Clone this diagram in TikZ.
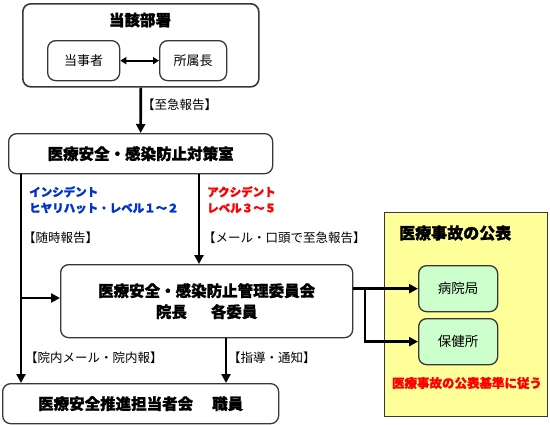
\documentclass[tikz,border=0pt]{standalone}
\usepackage{fontspec}
\setmainfont{Noto Sans CJK JP}[BoldFeatures={FakeBold=1.2}]
\usetikzlibrary{arrows.meta}
\definecolor{ylw}{HTML}{FFFF99}
\definecolor{grn}{HTML}{CCFFCC}
\definecolor{bdr}{HTML}{383838}
\definecolor{bluetxt}{HTML}{0033CC}
\begin{document}
\begin{tikzpicture}[x=1bp,y=-1bp,
  box/.style={draw=bdr, line width=1.3bp, rounded corners=8bp, fill=white, anchor=north west, inner sep=0pt},
  big/.style={font=\fontsize{15.5bp}{21bp}\selectfont\bfseries},
  small/.style={font=\fontsize{12.5bp}{15bp}\selectfont},
  arr/.style={line width=2.6bp, -{Triangle[length=9bp,width=9bp]}},
  lbl/.style={small, anchor=west, inner sep=0pt}]
\useasboundingbox (0,0) rectangle (550,424);

% top department box
\node[box, line width=1.6bp, minimum width=236bp, minimum height=83bp] (dept) at (22,3) {};
\node[big] (deptT) at (140,20) {当該部署};
\node[box, small, font=\fontsize{13bp}{15bp}\selectfont, minimum width=72bp, minimum height=40bp] (tojisha) at (47,40) {当事者};
\node[box, small, font=\fontsize{13bp}{15bp}\selectfont, minimum width=67bp, minimum height=40bp] (shozoku) at (159,40) {所属長};
\draw[line width=2bp, {Triangle[length=6bp,width=7bp]}-{Triangle[length=6bp,width=7bp]}] (tojisha) -- (shozoku);

% safety office
\node[box, big, minimum width=264bp, minimum height=40bp] (taisaku) at (8,133) {医療安全・感染防止対策室};
\draw[arr] (dept.south) -- (taisaku.north);
\node[lbl] (l1) at (142,105) {【至急報告】};

% committee
\node[box, big, align=center, minimum width=292bp, minimum height=73bp] (iinkai) at (60,264) {医療安全・感染防止管理委員会\\院長\hspace{24bp}各委員};

% bottom box
\node[box, big, minimum width=276bp, minimum height=40bp] (suishin) at (2,383) {医療安全推進担当者会\hspace{19bp}職員};

% connectors on the left
\coordinate (L) at (21,0);
\coordinate (B) at (21,298);
\coordinate (M) at (199,0);
\coordinate (N) at (226,0);
\draw[arr] (L |- taisaku.south) -- (L |- suishin.north);
\draw[arr] (B) -- (B -| iinkai.west);
\draw[arr] (M |- taisaku.south) -- (M |- iinkai.north);
\draw[arr] (N |- iinkai.south) -- (N |- suishin.north);

% labels
\node[anchor=north west, inner sep=0pt, align=left, text=bluetxt, font=\fontsize{11.5bp}{16bp}\selectfont\bfseries] (inc) at (29,186) {インシデント\\ヒヤリハット・レベル１～２};
\node[anchor=north west, inner sep=0pt, align=left, text=red, font=\fontsize{11.5bp}{16bp}\selectfont\bfseries] (acc) at (207,186) {アクシデント\\レベル３～５};
\node[lbl] (l2) at (23,238) {【随時報告】};
\node[lbl] (l3) at (203,238) {【メール・口頭で至急報告】};
\node[lbl] (l4) at (25,358) {【院内メール・院内報】};
\node[lbl] (l5) at (228,358) {【指導・通知】};

% publication panel
\node[draw=bdr, line width=1bp, fill=ylw, minimum width=163bp, minimum height=204bp, anchor=north west, inner sep=0pt] (koho) at (384,212) {};
\node[anchor=west, inner sep=0pt, font=\fontsize{16bp}{18bp}\selectfont\bfseries] (kohoT) at (399,233) {医療事故の公表};
\node[box, fill=grn, font=\fontsize{13.5bp}{16bp}\selectfont, minimum width=79bp, minimum height=46bp] (byoin) at (418,265) {病院局};
\node[box, fill=grn, font=\fontsize{13.5bp}{16bp}\selectfont, minimum width=79bp, minimum height=46bp] (hoken) at (418,318) {保健所};
\node[text=red, inner sep=0pt, font=\fontsize{12.5bp}{15bp}\selectfont\bfseries] (kijun) at (467,383) {医療事故の公表基準に従う};

\coordinate (R) at (365,0);
\draw[arr] (iinkai.east |- byoin.west) -- (byoin.west);
\draw[arr] (R |- byoin.west) -- (R |- hoken.west) -- (hoken.west);
\end{tikzpicture}
\end{document}
